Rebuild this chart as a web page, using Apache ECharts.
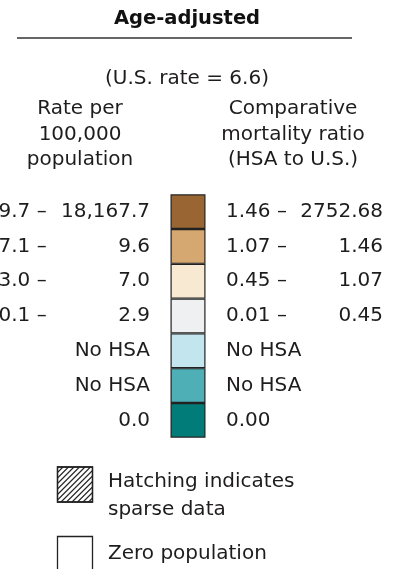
<!DOCTYPE html>
<html>
<head>
<meta charset="utf-8">
<script src="https://cdn.jsdelivr.net/npm/echarts@6/dist/echarts.min.js"></script>
<style>
html,body{margin:0;padding:0;background:#fff;}
#chart{width:406px;height:569px;}
</style>
</head>
<body>
<div id="chart"></div>
<script>
// ---- data ----
const titleText = 'Age-adjusted';
const subtitleText = '(U.S. rate = 6.6)';
const leftHeader = ['Rate per', '100,000', 'population'];
const rightHeader = ['Comparative', 'mortality ratio', '(HSA to U.S.)'];
const rows = ['0', '1', '2', '3', '4', '5', '6'];
const rateStart = ['9.7 \u2013', '7.1 \u2013', '3.0 \u2013', '0.1 \u2013', '', '', ''];
const rateEnd = ['18,167.7', '9.6', '7.0', '2.9', 'No HSA', 'No HSA', '0.0'];
const ratioStart = ['1.46 \u2013', '1.07 \u2013', '0.45 \u2013', '0.01 \u2013', 'No HSA', 'No HSA', '0.00'];
const ratioEnd = ['2752.68', '1.46', '1.07', '0.45', '', '', ''];
const swatchColors = ['#996633', '#D4A870', '#F8EAD2', '#EFF0F2', '#C3E6EE', '#4EAFB6', '#027C79'];
const swatchValues = [1, 1, 1, 1, 1, 1, 1];
const noteHatch = ['Hatching indicates', 'sparse data'];
const noteZero = 'Zero population';

// ---- chart ----
const FONT = '"DejaVu Sans", sans-serif';
const TXT = '#1e1c1d';
const chart = echarts.init(document.getElementById('chart'), null, {renderer: 'canvas'});

function yAx(position, labels, align, margin) {
  return {
    type: 'category', data: rows, inverse: true, position: position, gridIndex: 0,
    axisLine: {show: false}, axisTick: {show: false}, splitLine: {show: false},
    axisLabel: {
      show: true, interval: 0, align: align, margin: margin,
      fontFamily: FONT, fontSize: 20, color: TXT,
      formatter: (v, i) => labels[i]
    }
  };
}

// hatch lines for sparse-data box
const hx = 57.5, hy = 467, hs = 35, hd = 5.5;
const hatch = [];
for (let c = hd; c < 2 * hs; c += hd) {
  let x1, y1, x2, y2;
  if (c <= hs) { x1 = hx; y1 = hy + c; x2 = hx + c; y2 = hy; }
  else { x1 = hx + c - hs; y1 = hy + hs; x2 = hx + hs; y2 = hy + c - hs; }
  hatch.push({type: 'line', shape: {x1, y1, x2, y2}, style: {stroke: '#222', lineWidth: 1.1}, silent: true});
}

function txt(text, x, y, align, opts) {
  return {
    type: 'text', x: x, y: y, silent: true,
    style: Object.assign({text: text, fill: TXT, font: '20px ' + FONT, textAlign: align, textVerticalAlign: 'middle'}, opts || {})
  };
}

const graphics = [
  txt(titleText, 187, 19, 'center', {font: 'bold 19.5px ' + FONT, fill: '#111'}),
  {type: 'line', shape: {x1: 17, y1: 38, x2: 352, y2: 38}, style: {stroke: '#333', lineWidth: 1.5}, silent: true},
  txt(subtitleText, 187, 79, 'center'),
];
leftHeader.forEach((t, i) => graphics.push(txt(t, 80, 109 + i * 25.5, 'center')));
rightHeader.forEach((t, i) => graphics.push(txt(t, 293, 109 + i * 25.5, 'center')));
graphics.push({type: 'rect', shape: {x: hx, y: hy, width: hs, height: hs}, style: {fill: '#fff', stroke: '#222', lineWidth: 1.3}, silent: true});
hatch.forEach(h => graphics.push(h));
graphics.push({type: 'rect', shape: {x: hx, y: hy, width: hs, height: hs}, style: {fill: 'none', stroke: '#222', lineWidth: 1.3}, silent: true});
graphics.push(txt(noteHatch[0], 108, 482, 'left'));
graphics.push(txt(noteHatch[1], 108, 510, 'left'));
graphics.push({type: 'rect', shape: {x: hx, y: 536.5, width: hs, height: 60}, style: {fill: '#fff', stroke: '#222', lineWidth: 1.3}, silent: true});
graphics.push(txt(noteZero, 108, 554, 'left'));

chart.setOption({
  animation: false,
  backgroundColor: '#fff',
  grid: {left: 170.5, top: 194.3, width: 35, height: 243.4, containLabel: false, outerBoundsMode: 'none'},
  xAxis: {type: 'value', min: 0, max: 1, show: false},
  yAxis: [
    yAx('left', rateEnd, 'right', 20.5),
    yAx('left', rateStart, 'left', 172),
    yAx('right', ratioStart, 'left', 20.5),
    yAx('right', ratioEnd, 'right', 177.5)
  ],
  series: [{
    type: 'bar', yAxisIndex: 0, barCategoryGap: '0%', barWidth: '100%',
    data: swatchValues.map((v, i) => ({value: v, itemStyle: {color: swatchColors[i]}})),
    itemStyle: {borderColor: '#222', borderWidth: 1.2},
    silent: true
  }],
  graphic: graphics
});
</script>
</body>
</html>
